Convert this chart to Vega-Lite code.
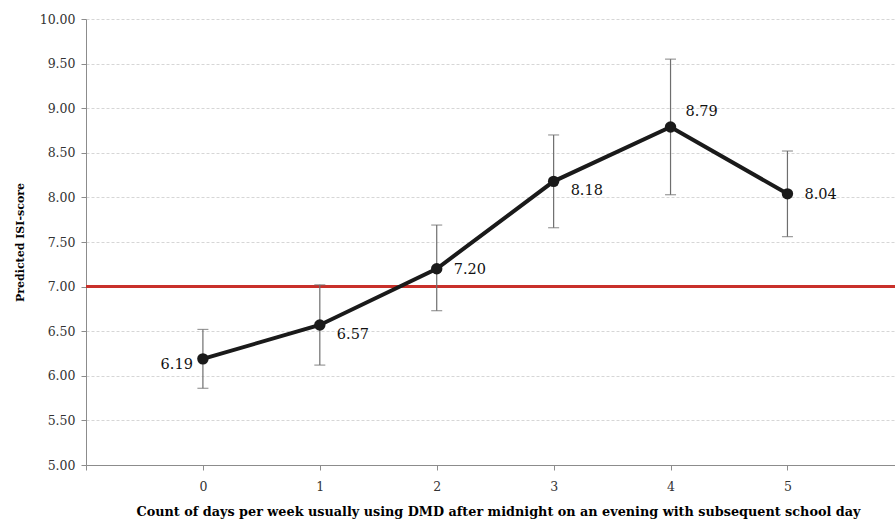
{
  "$schema": "https://vega.github.io/schema/vega-lite/v6.json",
  "width": 809,
  "height": 446,
  "autosize": {"type": "none"},
  "padding": {"left": 86, "top": 19, "right": 0, "bottom": 60},
  "background": "white",
  "config": {
    "view": {"stroke": null},
    "font": "DejaVu Serif"
  },
  "data": {
    "values": [
      {"days": 0, "isi": 6.19, "lo": 5.86, "hi": 6.52},
      {"days": 1, "isi": 6.57, "lo": 6.12, "hi": 7.02},
      {"days": 2, "isi": 7.20, "lo": 6.73, "hi": 7.69},
      {"days": 3, "isi": 8.18, "lo": 7.66, "hi": 8.70},
      {"days": 4, "isi": 8.79, "lo": 8.03, "hi": 9.55},
      {"days": 5, "isi": 8.04, "lo": 7.56, "hi": 8.52}
    ]
  },
  "encoding": {
    "x": {
      "field": "days", "type": "quantitative",
      "scale": {"domain": [-1, 5.92], "nice": false, "zero": false},
      "axis": {
        "values": [-1, 0, 1, 2, 3, 4, 5],
        "labelExpr": "datum.value < 0 ? '' : datum.label",
        "grid": false,
        "title": "Count of days per week usually using DMD after midnight on an evening with subsequent school day",
        "titleFont": "DejaVu Serif", "titleFontWeight": "bold", "titleFontSize": 12.8, "titleColor": "#000",
        "titlePadding": 13, "titleX": 412,
        "labelFont": "DejaVu Serif", "labelFontSize": 12.5, "labelColor": "#333", "labelPadding": 10,
        "domainColor": "#8c8c8c", "tickColor": "#8c8c8c", "tickSize": 5
      }
    }
  },
  "layer": [
    {
      "mark": {"type": "rule", "color": "#c8312b", "strokeWidth": 2.5},
      "encoding": {
        "y": {
          "datum": 7,
          "type": "quantitative",
          "scale": {"domain": [5, 10], "nice": false, "zero": false},
          "axis": {
            "values": [5, 5.5, 6, 6.5, 7, 7.5, 8, 8.5, 9, 9.5, 10],
            "format": ".2f",
            "title": "Predicted ISI-score",
            "titleFont": "DejaVu Serif", "titleFontWeight": "bold", "titleFontSize": 11, "titleColor": "#000",
            "titlePadding": 14,
            "labelFont": "DejaVu Serif", "labelFontSize": 12.5, "labelColor": "#333", "labelPadding": 6,
            "grid": true, "gridColor": "#d6d6d6", "gridDash": [3, 2], "gridWidth": 1,
            "domainColor": "#8c8c8c", "tickColor": "#8c8c8c", "tickSize": 5
          }
        },
        "x": {"value": 0},
        "x2": {"value": 809}
      }
    },
    {
      "mark": {"type": "rule", "color": "#6e6e6e", "strokeWidth": 1.2},
      "encoding": {
        "y": {"field": "lo", "type": "quantitative"},
        "y2": {"field": "hi"}
      }
    },
    {
      "mark": {"type": "tick", "orient": "horizontal", "color": "#6e6e6e", "size": 11, "thickness": 1.2},
      "encoding": {"y": {"field": "lo", "type": "quantitative"}}
    },
    {
      "mark": {"type": "tick", "orient": "horizontal", "color": "#6e6e6e", "size": 11, "thickness": 1.2},
      "encoding": {"y": {"field": "hi", "type": "quantitative"}}
    },
    {
      "mark": {"type": "line", "color": "#1a1a1a", "strokeWidth": 4},
      "encoding": {"y": {"field": "isi", "type": "quantitative"}}
    },
    {
      "mark": {"type": "point", "filled": true, "color": "#1a1a1a", "size": 130, "opacity": 1},
      "encoding": {"y": {"field": "isi", "type": "quantitative"}}
    },
    {
      "transform": [{"filter": "datum.days == 0"}],
      "mark": {"type": "text", "align": "right", "dx": -10, "dy": 6, "fontSize": 14.5, "color": "#111"},
      "encoding": {"y": {"field": "isi", "type": "quantitative"}, "text": {"field": "isi", "format": ".2f"}}
    },
    {
      "transform": [{"filter": "datum.days == 1 || datum.days == 3"}],
      "mark": {"type": "text", "align": "left", "dx": 17, "dy": 10, "fontSize": 14.5, "color": "#111"},
      "encoding": {"y": {"field": "isi", "type": "quantitative"}, "text": {"field": "isi", "format": ".2f"}}
    },
    {
      "transform": [{"filter": "datum.days == 2 || datum.days == 5"}],
      "mark": {"type": "text", "align": "left", "dx": 17, "dy": 1, "fontSize": 14.5, "color": "#111"},
      "encoding": {"y": {"field": "isi", "type": "quantitative"}, "text": {"field": "isi", "format": ".2f"}}
    },
    {
      "transform": [{"filter": "datum.days == 4"}],
      "mark": {"type": "text", "align": "left", "dx": 15, "dy": -15, "fontSize": 14.5, "color": "#111"},
      "encoding": {"y": {"field": "isi", "type": "quantitative"}, "text": {"field": "isi", "format": ".2f"}}
    }
  ]
}
